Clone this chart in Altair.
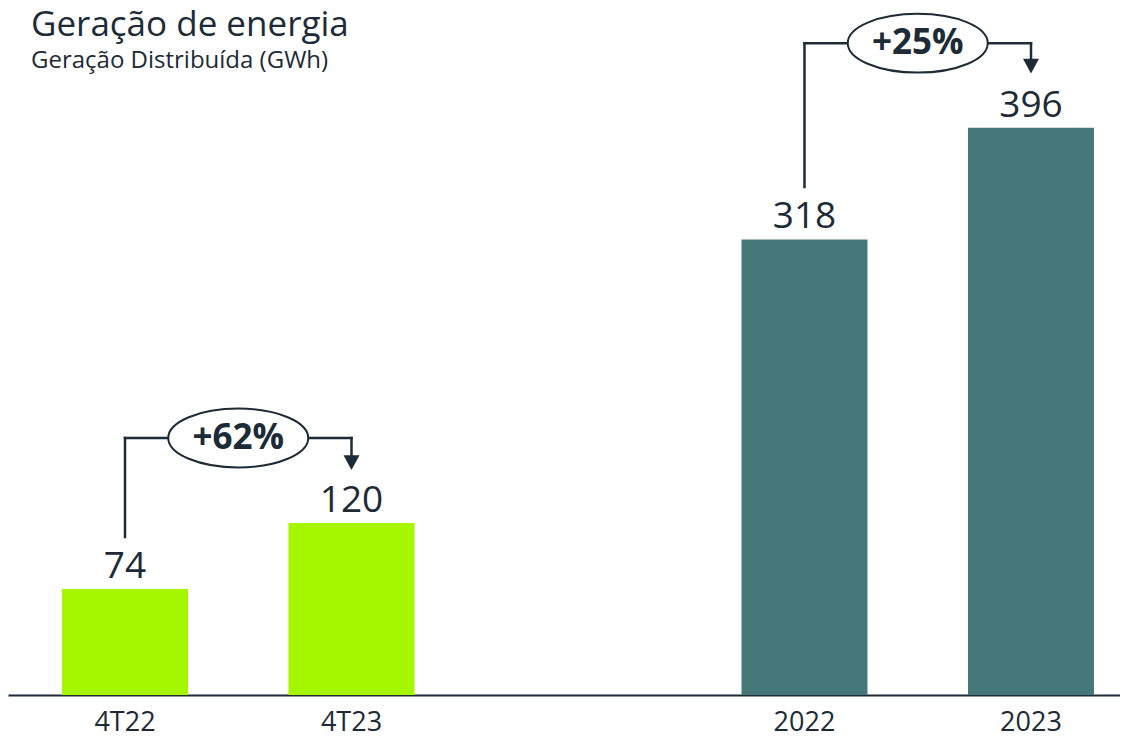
import altair as alt
import pandas as pd

# ---- data ----
categories = ["4T22", "4T23", " ", "2022", "2023"]
bar_cats = ["4T22", "4T23", "2022", "2023"]
values = [74, 120, 318, 396]
groups = ["Trimestre", "Trimestre", "Ano", "Ano"]
value_labels = ["74", "120", "318", "396"]

ann_from = ["4T22", "2022"]
ann_to = ["4T23", "2023"]
ann_text = ["+62%", "+25%"]
ann_level = [179.4, 455.0]
ann_start = [110.3, 354.6]
ann_arrow = [162.3, 439.1]

# ---- style ----
DARK = "#1c2b36"
LIME = "#a6f600"
TEAL = "#477879"
FONT = "Open Sans"
WIDTH = 1112
PAD_INNER = 0.4437
PAD_OUTER = 0.1766
ALIGN = 0.675
STEP = WIDTH / (len(categories) - PAD_INNER + 2 * PAD_OUTER)
GAP_HALF = STEP * PAD_INNER / 2  # from band end to midpoint between two bands

ELL_SIZE = 19600
ELL_R = ELL_SIZE ** 0.5 / 2
s = GAP_HALF / ELL_R
ELLIPSE_PATH = f"M{-1 + s:.4f},0A1,0.42,0,1,1,{1 + s:.4f},0A1,0.42,0,1,1,{-1 + s:.4f},0Z"

bars = pd.DataFrame({"cat": bar_cats, "value": values, "group": groups, "label": value_labels})
ann = pd.DataFrame({"src": ann_from, "dst": ann_to, "text": ann_text,
                    "level": ann_level, "start": ann_start, "arrow": ann_arrow})

xscale = alt.Scale(domain=categories, paddingInner=PAD_INNER, paddingOuter=PAD_OUTER, align=ALIGN)
yscale = alt.Scale(domain=[0, 430], nice=False, zero=True)
xaxis = alt.Axis(title=None, labelAngle=0, ticks=False, domainColor=DARK, domainWidth=2,
                 labelFontSize=27, labelColor=DARK, labelFont=FONT, labelPadding=14, grid=False)


def X(field, **kw):
    return alt.X(field, scale=xscale, axis=xaxis, **kw)


def Y(field):
    return alt.Y(field, scale=yscale, axis=None)


base_bars = alt.Chart(bars)

bar_layer = base_bars.mark_bar().encode(
    x=X("cat:N", sort=categories),
    y=Y("value:Q"),
    color=alt.Color("group:N", scale=alt.Scale(domain=["Trimestre", "Ano"], range=[LIME, TEAL]), legend=None),
)

label_layer = base_bars.mark_text(baseline="alphabetic", dy=-11, fontSize=37, font=FONT, color=DARK).encode(
    x=X("cat:N"),
    y=Y("value:Q"),
    text="label:N",
)

base_ann = alt.Chart(ann)
rule_kw = dict(color=DARK, strokeWidth=2.5, strokeCap="square")

up_rule = base_ann.mark_rule(**rule_kw).encode(x=X("src:N"), y=Y("start:Q"), y2="level:Q")
across_rule = base_ann.mark_rule(**rule_kw).encode(x=X("src:N"), x2="dst:N", y=Y("level:Q"))
down_rule = base_ann.mark_rule(**rule_kw).encode(x=X("dst:N"), y=Y("level:Q"), y2="arrow:Q")
arrow = base_ann.mark_point(shape="M-1,-0.9L1,-0.9L0,0.95Z", size=256, filled=True,
                            color=DARK, opacity=1).encode(x=X("dst:N"), y=Y("arrow:Q"))
ellipse = base_ann.mark_point(shape=ELLIPSE_PATH, size=ELL_SIZE,
                              filled=True, fill="white", stroke=DARK, strokeWidth=2, opacity=1,
                              fillOpacity=1, strokeOpacity=1).encode(
    x=X("src:N", bandPosition=1), y=Y("level:Q"))
pct = base_ann.mark_text(fontSize=35, fontWeight="bold", font=FONT, color=DARK, baseline="middle",
                         dx=GAP_HALF).encode(
    x=X("src:N", bandPosition=1), y=Y("level:Q"), text="text:N")

chart = alt.layer(bar_layer, label_layer, up_rule, across_rule, down_rule, arrow, ellipse, pct).properties(
    width=WIDTH, height=616,
    title=alt.TitleParams(text="Geração de energia", subtitle="Geração Distribuída (GWh)",
                          anchor="start", font=FONT, fontSize=35, fontWeight="normal", color=DARK,
                          subtitleFont=FONT, subtitleFontSize=24, subtitleColor=DARK,
                          subtitlePadding=6, offset=10, dx=23, dy=73),
    autosize=alt.AutoSizeParams(type="none"),
    padding={"left": 0, "top": 71, "right": 0, "bottom": 44},
    background="white",
).configure_view(stroke=None)

chart.save("out.html", embed_options={"renderer": "svg", "actions": False})
